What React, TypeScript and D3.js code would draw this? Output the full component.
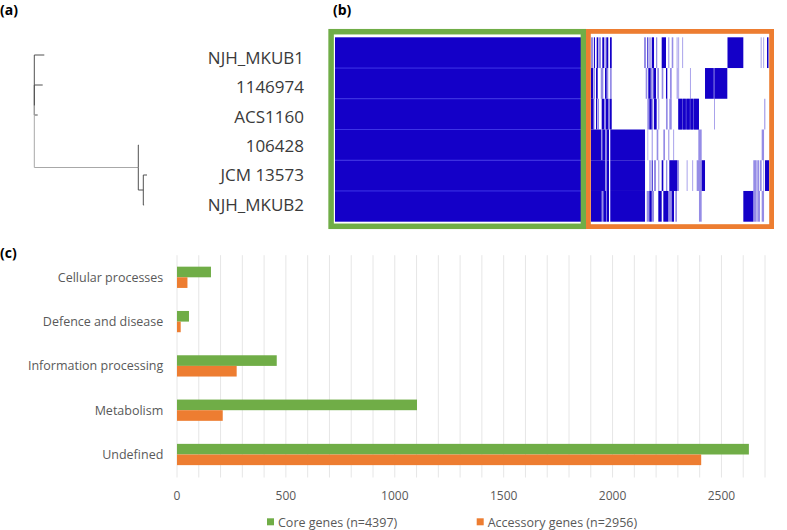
import React from 'react';
import * as d3 from 'd3';

// ---------- (a) tree ----------
const GENOMES = ['NJH_MKUB1', '1146974', 'ACS1160', '106428', 'JCM 13573', 'NJH_MKUB2'];
const TREE_IDS = ['root', 'NJH_MKUB1', '1146974', 'ACS1160', 'cladeB', '106428', 'sub', 'JCM 13573', 'NJH_MKUB2'];
const TREE_PARENTS = ['', 'root', 'root', 'root', 'root', 'cladeB', 'cladeB', 'sub', 'sub'];
const TREE_LENGTHS = [0, 0.01, 0.0084, 0.0034, 0.104, 0.0004, 0.005, 0.0037, 0.0008];

// ---------- (b) gene presence ----------
const CORE_N = 4397;
const ACC_N = 2956;
const D = 1;
const L = 0.45;
const ACC_NJH_MKUB1 = [
  [5, 43, L], [55, 71, D], [99, 126, D], [137, 170, L], [192, 220, D], [225, 248, L], [258, 291, D], [319, 348, D],
  [882, 915, L], [937, 953, D], [970, 993, L], [1010, 1048, D], [1081, 1102, L], [1175, 1246, D], [1284, 1301, L],
  [1341, 1367, L], [1423, 1435, L], [1450, 1462, L], [1516, 1528, L],
  [2264, 2526, D], [2814, 2826, L], [2857, 2869, L], [2918, 2943, D],
];
const ACC_1146974 = [
  [5, 43, D], [55, 71, L], [88, 116, D], [166, 209, L], [237, 265, D], [270, 291, L], [319, 348, L],
  [910, 937, L], [953, 993, D], [993, 1026, L], [1036, 1081, D], [1102, 1130, L], [1175, 1202, L], [1246, 1268, D],
  [1312, 1341, L], [1423, 1440, L], [1450, 1462, L], [1643, 1655, L],
  [1892, 2036, D], [2036, 2048, 0.6], [2048, 2261, D],
];
const ACC_ACS1160 = [
  [5, 43, D], [43, 60, 0.7], [88, 109, D], [120, 137, L], [182, 220, D], [220, 253, L], [253, 291, D], [291, 319, L], [319, 348, D],
  [937, 970, L], [970, 1010, D], [1010, 1036, L], [1048, 1092, D], [1119, 1135, L], [1246, 1274, L], [1301, 1341, L],
  [1450, 1792, 0.55], [1450, 1512, D], [1522, 1574, D], [1584, 1640, D], [1650, 1695, D], [1705, 1792, D],
  [2041, 2053, L], [2873, 2890, L],
];
const ACC_106428 = [
  [5, 170, D], [170, 192, L], [192, 237, D], [237, 265, L], [265, 303, D], [324, 899, D],
  [937, 953, 0.3], [1010, 1026, L], [1092, 1119, L], [1202, 1230, L], [1284, 1301, L], [1367, 1379, L],
  [1781, 1837, L], [2830, 2869, L],
];
const ACC_JCM_13573 = [
  [5, 237, D], [237, 265, L], [265, 303, D], [324, 899, D],
  [970, 993, L], [1010, 1026, D], [1048, 1081, L], [1119, 1135, L], [1175, 1202, D], [1246, 1268, L],
  [1301, 1433, D], [1433, 1461, L], [1589, 1601, L], [1682, 1694, L], [1754, 1837, L], [1837, 1892, D],
  [2691, 2747, L], [2757, 2790, L], [2802, 2830, L], [2857, 2869, L], [2885, 2951, D],
];
const ACC_NJH_MKUB2 = [
  [5, 182, D], [182, 209, L], [209, 253, D], [253, 265, L], [265, 303, D], [324, 899, D],
  [927, 970, L], [970, 1010, D], [1010, 1048, L], [1119, 1175, D], [1202, 1284, D], [1284, 1341, L],
  [1341, 1379, D], [1400, 1428, L], [1792, 1837, L],
  [2526, 2691, D], [2691, 2747, L], [2757, 2802, L], [2830, 2869, L],
];
const ACCESSORY_ROWS = [ACC_NJH_MKUB1, ACC_1146974, ACC_ACS1160, ACC_106428, ACC_JCM_13573, ACC_NJH_MKUB2];

// ---------- (c) bar chart ----------
const CATEGORIES = ['Cellular processes', 'Defence and disease', 'Information processing', 'Metabolism', 'Undefined'];
const CORE_COUNTS = [156, 55, 458, 1102, 2626];
const ACCESSORY_COUNTS = [48, 17, 274, 210, 2407];
const SERIES = ['Core genes (n=4397)', 'Accessory genes (n=2956)'];
const X_TICKS = [0, 500, 1000, 1500, 2000, 2500];

const W = 787;
const H = 530;
const GREEN = '#70AD47';
const ORANGE = '#ED7D31';
const BLUE = '#1400C8';
const FONT = '"Open Sans", sans-serif';

export default function App() {
  // tree layout
  const nodes = TREE_IDS.map((id, i) => ({ id, parentId: TREE_PARENTS[i] || null, len: TREE_LENGTHS[i] }));
  const root = d3.stratify<any>().id((d: any) => d.id).parentId((d: any) => d.parentId)(nodes);
  const leafY = d3.scalePoint<string>().domain(GENOMES).range([55, 205]);
  const treeX = d3.scaleLinear().domain([0, 0.11]).range([34.3, 144.3]);
  const dist: Record<string, number> = {};
  const ypos: Record<string, number> = {};
  root.eachBefore((n: any) => {
    dist[n.id] = (n.parent ? dist[n.parent.id] : 0) + n.data.len;
  });
  root.eachAfter((n: any) => {
    ypos[n.id] = n.children ? d3.mean(n.children, (c: any) => ypos[c.id]) as number : (leafY(n.id) as number);
  });
  const links = root.descendants().filter((n: any) => n.parent);

  // heatmap
  const rowY = d3.scaleBand<string>().domain(GENOMES).range([37.3, 221.7]);
  const coreX = d3.scaleLinear().domain([0, CORE_N]).range([335, 581]);
  const accX = d3.scaleLinear().domain([0, ACC_N]).range([590.7, 769.3]);
  const labelY = d3.scalePoint<string>().domain(GENOMES).range([58, 204.7]);

  // bars
  const x = d3.scaleLinear().domain([0, 2700]).range([177, 765]);
  const y = d3.scaleBand<string>().domain(CATEGORIES).range([255.15, 476.65]).paddingInner(0.52).paddingOuter(0.26);
  const ySub = d3.scaleBand<string>().domain(SERIES).range([0, y.bandwidth()]);
  const grid = d3.range(0, 2701, 100);
  const seriesVals = [CORE_COUNTS, ACCESSORY_COUNTS];
  const seriesColors = [GREEN, ORANGE];
  const legendX = [267, 476.7];

  return (
    <svg width={W} height={H} style={{ position: 'absolute', left: 0, top: 0, background: '#fff' }} fontFamily={FONT}>
      {/* panel labels */}
      <text x={0} y={15} fontSize={14} fontWeight="bold" fill="#000">(a)</text>
      <text x={333} y={15} fontSize={14} fontWeight="bold" fill="#000">(b)</text>
      <text x={0} y={258} fontSize={14} fontWeight="bold" fill="#000">(c)</text>

      {/* tree */}
      <g fill="none" strokeWidth={1}>
        {links.map((n: any) => (
          <path
            key={n.id}
            d={`M${treeX(dist[n.parent.id])},${ypos[n.parent.id]}V${ypos[n.id]}H${treeX(dist[n.id])}`}
            stroke={n.id === 'cladeB' ? '#a8a8a8' : '#505050'}
          />
        ))}
      </g>

      {/* genome labels */}
      {GENOMES.map((g) => (
        <text key={g} x={304} y={labelY(g)} dy="0.35em" textAnchor="end" fontSize={17} fill="#3a3a3a">{g}</text>
      ))}

      {/* core heatmap */}
      {GENOMES.map((g) => (
        <rect key={g} x={coreX(0)} y={rowY(g)} width={coreX(CORE_N) - coreX(0)} height={rowY.bandwidth()} fill={BLUE} />
      ))}
      {GENOMES.slice(1).map((g) => (
        <line key={g} x1={coreX(0)} x2={coreX(CORE_N)} y1={rowY(g)} y2={rowY(g)} stroke="#3d33e6" strokeWidth={1} />
      ))}

      {/* accessory heatmap */}
      {ACCESSORY_ROWS.map((segs, i) => (
        <g key={GENOMES[i]}>
          {segs.map((s, j) => (
            <rect
              key={j}
              x={accX(s[0])}
              y={rowY(GENOMES[i])}
              width={Math.max(0.8, accX(s[1]) - accX(s[0]))}
              height={rowY.bandwidth()}
              fill={BLUE}
              fillOpacity={s[2]}
            />
          ))}
        </g>
      ))}

      {/* frames */}
      <rect x={331.1} y={31.7} width={252.3} height={194.6} fill="none" stroke={GREEN} strokeWidth={5.5} />
      <rect x={588.4} y={31.4} width={183.2} height={195.2} fill="none" stroke={ORANGE} strokeWidth={4.8} />

      {/* bar chart grid */}
      {grid.map((v) => (
        <line key={v} x1={x(v)} x2={x(v)} y1={255.2} y2={477.5} stroke="#e6e6e6" strokeWidth={1} />
      ))}

      {/* bars */}
      {CATEGORIES.map((c, i) => (
        <g key={c}>
          {SERIES.map((s, k) => (
            <rect
              key={s}
              x={x(0)}
              y={(y(c) as number) + (ySub(s) as number)}
              width={x(seriesVals[k][i]) - x(0)}
              height={ySub.bandwidth()}
              fill={seriesColors[k]}
            />
          ))}
          <text x={163.3} y={(y(c) as number) + y.bandwidth() / 2} dy="0.35em" textAnchor="end" fontSize={12.5} fill="#595959">{c}</text>
        </g>
      ))}

      {/* x tick labels */}
      {X_TICKS.map((t) => (
        <text key={t} x={x(t)} y={500} textAnchor="middle" fontSize={12} fill="#595959">{t}</text>
      ))}

      {/* legend */}
      {SERIES.map((s, k) => (
        <g key={s}>
          <rect x={legendX[k]} y={518.3} width={7} height={7} fill={seriesColors[k]} />
          <text x={legendX[k] + 11} y={526.5} fontSize={12.5} fill="#595959">{s}</text>
        </g>
      ))}
    </svg>
  );
}
